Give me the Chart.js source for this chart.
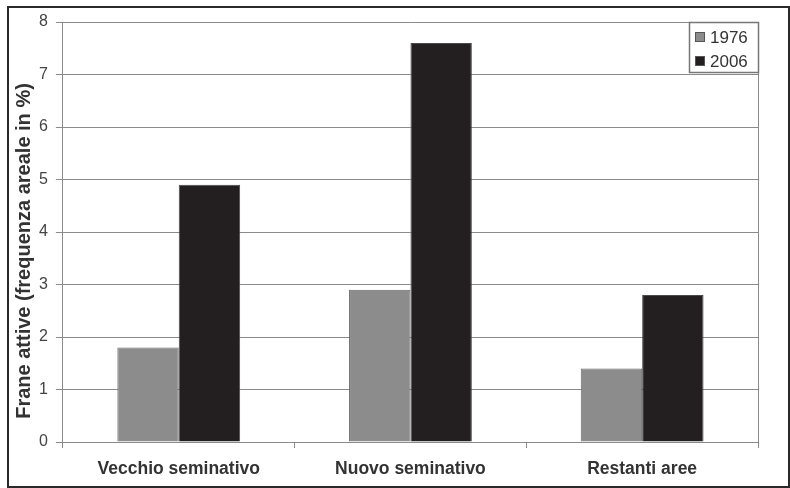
<!DOCTYPE html>
<html><head><meta charset="utf-8">
<script src="https://cdn.jsdelivr.net/npm/chart.js@4"></script>
<style>html,body{margin:0;padding:0;background:#fff}#wrap{width:790px;height:488px}</style>
</head><body><div id="wrap"><canvas id="c" width="790" height="488"></canvas></div>
<script>
const categories = ["Vecchio seminativo", "Nuovo seminativo", "Restanti aree"];
const series1976 = [1.8, 2.9, 1.4];
const series2006 = [4.9, 7.6, 2.8];
const yTicks = [0, 1, 2, 3, 4, 5, 6, 7, 8];
const yTitle = "Frane attive (frequenza areale in %)";

const FONT = '"Liberation Sans", Arial, sans-serif';

const framePlugin = {
  id: 'frame',
  afterDraw(chart) {
    const ctx = chart.ctx, a = chart.chartArea;
    ctx.save();
    ctx.strokeStyle = '#2a2a2a'; ctx.lineWidth = 2;
    ctx.strokeRect(8, 7, 781, 480);
    ctx.strokeStyle = '#8a8a8a'; ctx.lineWidth = 1;
    ctx.beginPath(); ctx.moveTo(a.right + 0.5, a.top); ctx.lineTo(a.right + 0.5, a.bottom + 6); ctx.stroke();
    // y axis title
    ctx.save();
    ctx.translate(24, 251);
    ctx.rotate(-Math.PI / 2);
    ctx.font = 'bold 20px ' + FONT;
    ctx.fillStyle = '#333';
    ctx.textAlign = 'center'; ctx.textBaseline = 'middle';
    ctx.fillText(yTitle, 0, 0);
    ctx.restore();
    // legend
    const w = 69, h = 50, x0 = a.right - w, y0 = a.top;
    ctx.fillStyle = '#fff'; ctx.fillRect(x0, y0, w, h);
    ctx.strokeStyle = '#777'; ctx.lineWidth = 1.5;
    ctx.strokeRect(x0 + 0.5, y0 + 0.5, w, h);
    ctx.font = '17px ' + FONT;
    ctx.textBaseline = 'middle';
    chart.data.datasets.forEach((ds, i) => {
      const cy = y0 + 15 + i * 24;
      ctx.fillStyle = ds.backgroundColor; ctx.fillRect(x0 + 6, cy - 5, 10, 10);
      ctx.strokeStyle = '#555'; ctx.lineWidth = 1; ctx.strokeRect(x0 + 6.5, cy - 4.5, 9, 9);
      ctx.fillStyle = '#333'; ctx.fillText(ds.label, x0 + 21, cy + 1);
    });
    ctx.restore();
  }
};

new Chart(document.getElementById('c'), {
  type: 'bar',
  data: {
    labels: categories,
    datasets: [
      { label: '1976', data: series1976, backgroundColor: '#8c8c8c', borderColor: '#6a6a6a', borderWidth: 1, categoryPercentage: 0.53, barPercentage: 1.0 },
      { label: '2006', data: series2006, backgroundColor: '#231f20', borderColor: '#4a4a4a', borderWidth: 1, categoryPercentage: 0.53, barPercentage: 1.0 }
    ]
  },
  options: {
    responsive: false,
    animation: false,
    layout: { padding: { left: 31, right: 32, top: 22, bottom: -3 } },
    plugins: { legend: { display: false }, tooltip: { enabled: false } },
    scales: {
      x: {
        grid: { drawOnChartArea: false, drawTicks: true, tickLength: 6, color: '#8a8a8a', offset: true },
        border: { display: true, color: '#8a8a8a', width: 1 },
        ticks: { color: '#333', font: { family: FONT, size: 17.5, weight: 'bold' }, padding: 11 }
      },
      y: {
        min: 0, max: 8,
        afterBuildTicks(scale) { scale.ticks = yTicks.map(v => ({ value: v })); },
        grid: { color: '#8a8a8a', lineWidth: 1, tickLength: 7 },
        border: { display: true, color: '#8a8a8a', width: 1 },
        ticks: { color: '#444', font: { family: FONT, size: 16 }, padding: 8 },
        title: { display: false }
      }
    }
  },
  plugins: [framePlugin]
});
</script>
</body></html>
